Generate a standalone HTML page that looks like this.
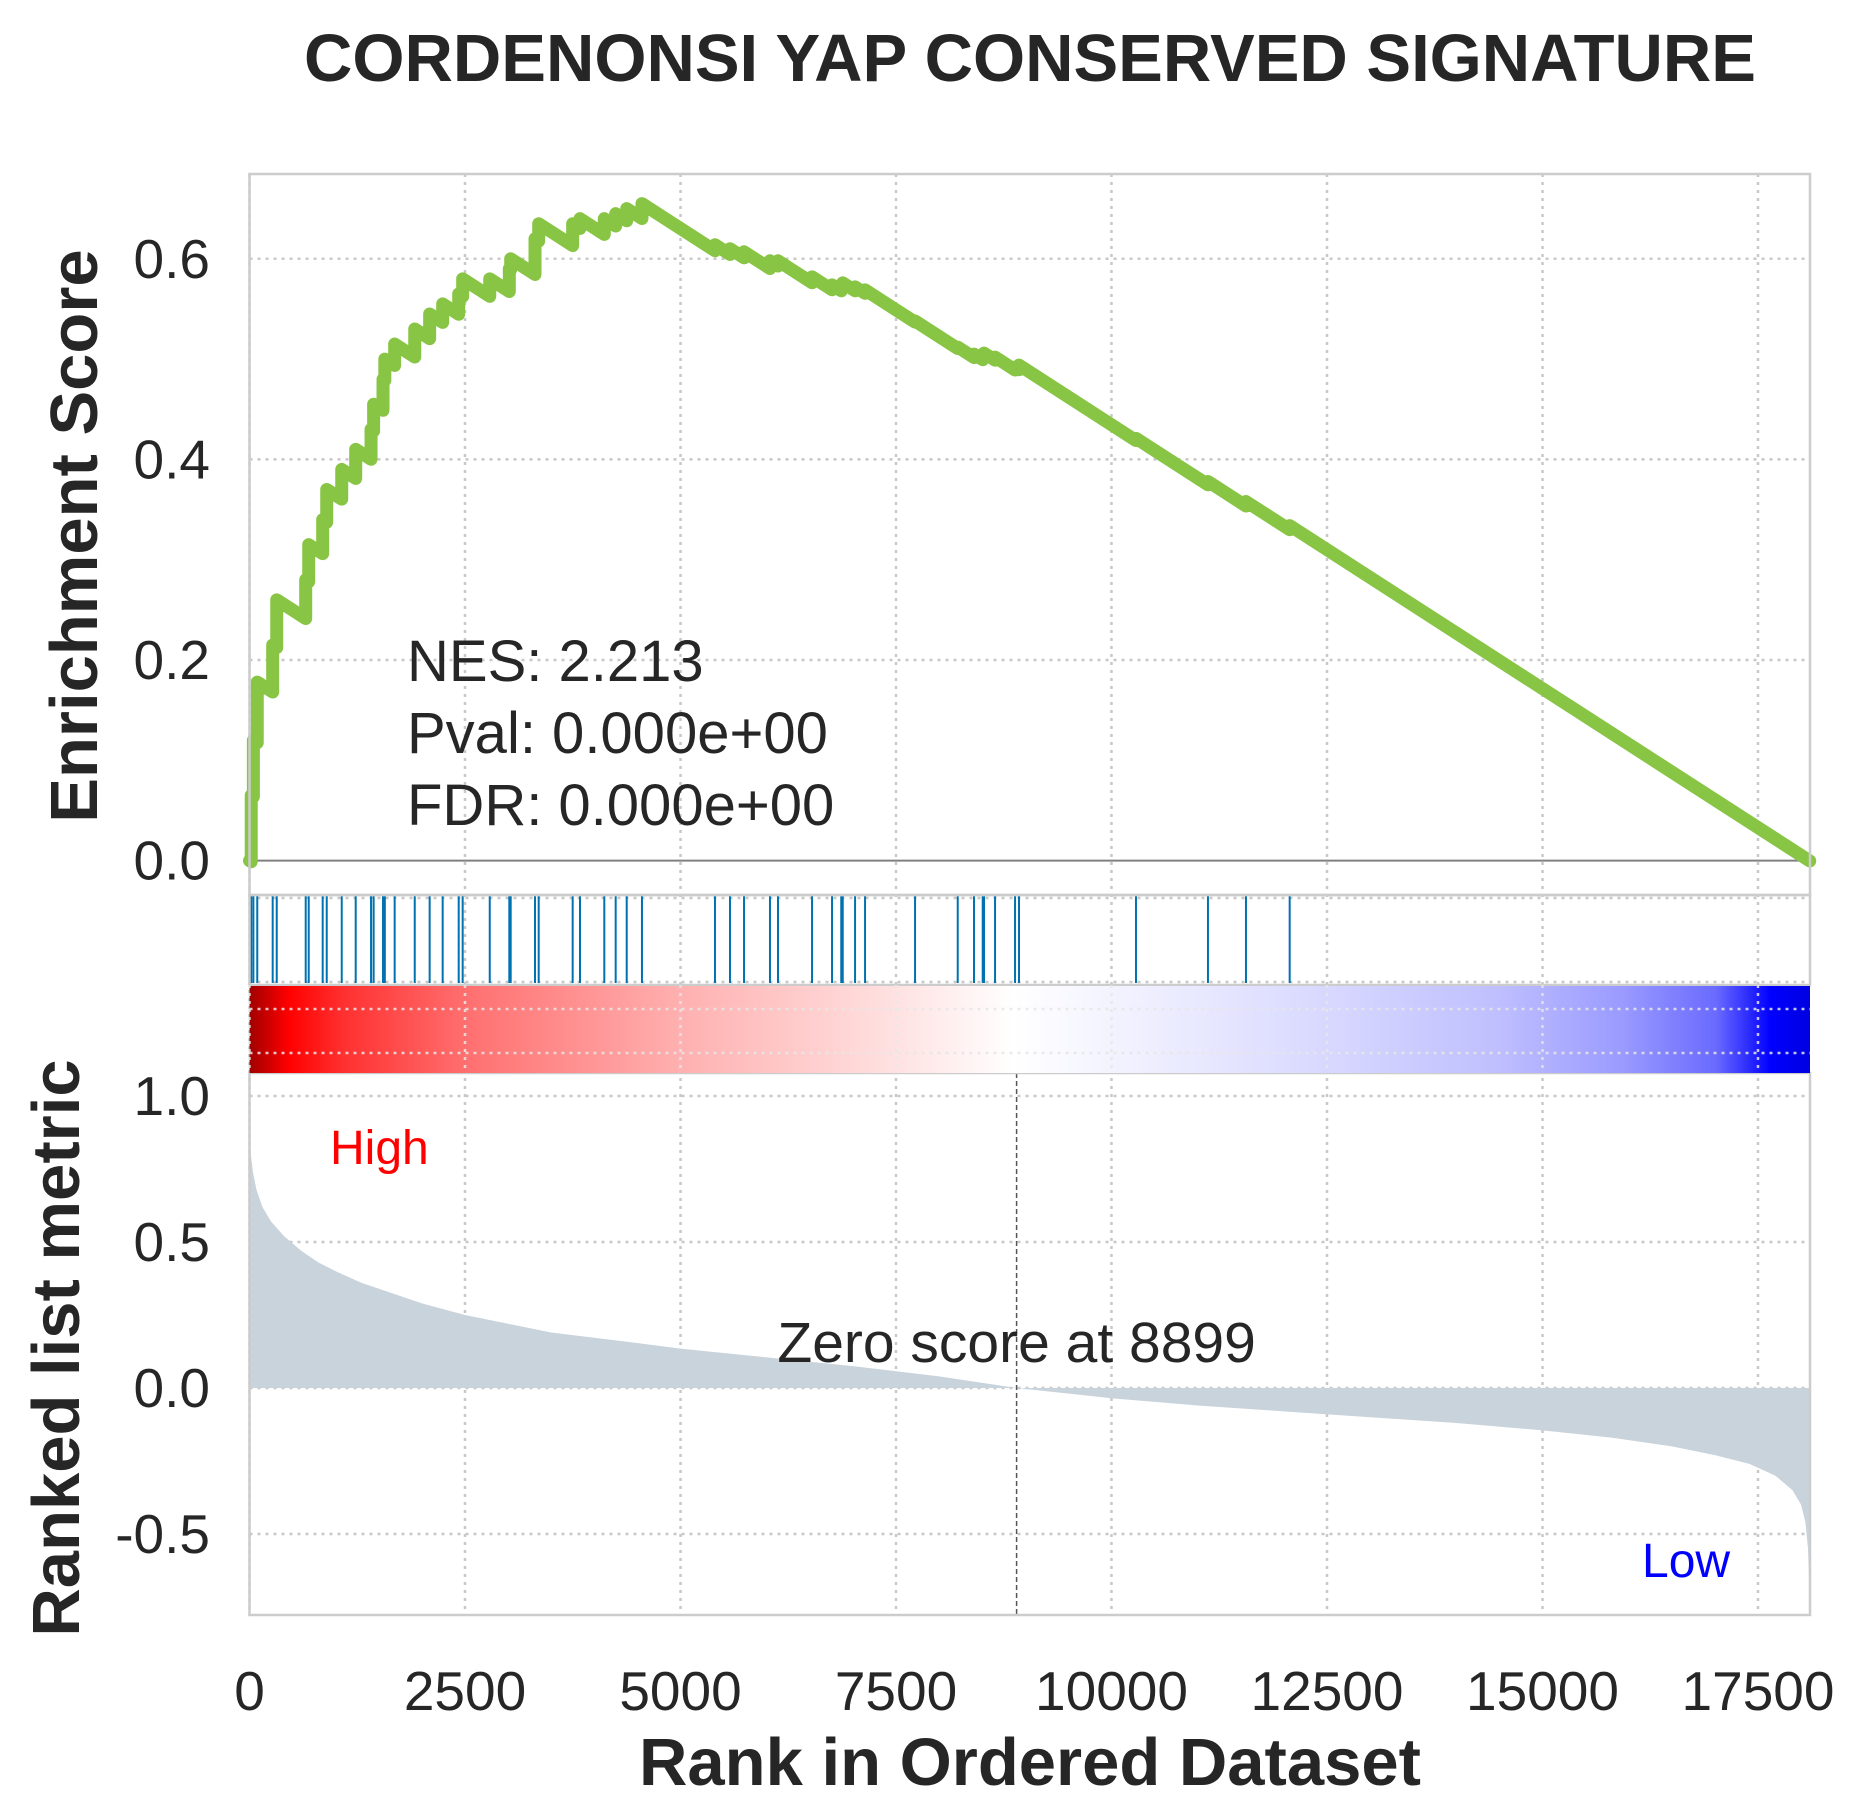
<!DOCTYPE html>
<html><head><meta charset="utf-8">
<style>
html,body{margin:0;padding:0;background:#fff;}
svg{display:block;font-family:"Liberation Sans",Arial,sans-serif;}
</style></head>
<body>
<svg id="chart" width="1869" height="1816" viewBox="0 0 1869 1816" xmlns="http://www.w3.org/2000/svg">
<defs>
<linearGradient id="cbar" x1="0" y1="0" x2="1" y2="0">
<stop offset="0" stop-color="#a00000"/>
<stop offset="0.025" stop-color="#ff0000"/>
<stop offset="0.06" stop-color="#ff3030"/>
<stop offset="0.138" stop-color="#ff6f6f"/>
<stop offset="0.276" stop-color="#ffb0b0"/>
<stop offset="0.4" stop-color="#ffdcdc"/>
<stop offset="0.49" stop-color="#ffffff"/>
<stop offset="0.6" stop-color="#eaeaff"/>
<stop offset="0.7" stop-color="#d6d6ff"/>
<stop offset="0.8" stop-color="#bfbfff"/>
<stop offset="0.88" stop-color="#9a9aff"/>
<stop offset="0.94" stop-color="#6a6aff"/>
<stop offset="0.975" stop-color="#0000ff"/>
<stop offset="1" stop-color="#0000e0"/>
</linearGradient>
</defs>
<text x="1030" y="81" text-anchor="middle" font-size="67" font-weight="bold" fill="#262626">CORDENONSI YAP CONSERVED SIGNATURE</text>
<g id="grid"></g>
<g id="marks"></g>
<g id="frames"></g>
<g id="labels"></g>
</svg>
<script>
// ---- data ----
const xTicks = [0, 2500, 5000, 7500, 10000, 12500, 15000, 17500];
const esTicks = [0.0, 0.2, 0.4, 0.6];
const metricTicks = [1.0, 0.5, 0.0, -0.5];
const totalGenes = 18100;
const zeroScoreRank = 8899;
const hitRanks = [20,45,90,269,316,652,687,849,896,1070,1232,1410,1440,1549,1570,1684,1917,2090,2241,2427,2473,2787,3014,3030,3312,3355,3749,3834,4116,4248,4376,4553,5400,5574,5737,6038,6131,6526,6758,6865,6882,7025,7141,7721,8216,8405,8506,8521,8649,8881,8927,10284,11119,11560,12067];
const esAfterHit = [0.065,0.12,0.178,0.215,0.26,0.28,0.315,0.34,0.37,0.39,0.41,0.43,0.455,0.48,0.50,0.515,0.53,0.545,0.555,0.565,0.58,0.58,0.59,0.60,0.62,0.635,0.635,0.64,0.64,0.645,0.65,0.655,0.614,0.610,0.607,0.598,0.598,0.582,0.574,0.573,0.576,0.572,0.569,0.538,0.512,0.505,0.503,0.506,0.502,0.492,0.494,0.421,0.378,0.358,0.334];
const esStepDown = 1/(18100-55);
const metricRanks = [0,15,40,80,150,250,400,600,800,1000,1300,1600,2000,2500,3000,3500,4200,5000,6000,7000,8000,8899,10000,11000,12000,13000,14000,15000,15800,16500,17000,17400,17700,17900,18000,18050,18080,18100];
const metricValues = [0.85,0.80,0.74,0.68,0.62,0.57,0.52,0.47,0.43,0.40,0.36,0.33,0.29,0.25,0.22,0.19,0.165,0.135,0.105,0.075,0.04,0.0,-0.035,-0.06,-0.08,-0.10,-0.12,-0.145,-0.17,-0.20,-0.23,-0.26,-0.30,-0.35,-0.40,-0.46,-0.55,-0.72];
const stats = ["NES: 2.213", "Pval: 0.000e+00", "FDR: 0.000e+00"];

// ---- scales ----
const X0 = 249.5, X1 = 1810;
const xS = r => X0 + r / 2500 * 215.5;
const ES_TOP = 174, ES_BOT = 895;
const yE = v => 860.6 - v * 1003;
const HIT_TOP = 895, HIT_BOT = 985, CB_BOT = 1073;
const M_TOP = 1073, M_BOT = 1615;
const yM = v => 1388 - v * 292;

const NS = "http://www.w3.org/2000/svg";
function mk(tag, attrs, parent, text) {
  const e = document.createElementNS(NS, tag);
  for (const k in attrs) e.setAttribute(k, attrs[k]);
  if (text !== undefined) e.textContent = text;
  parent.appendChild(e);
  return e;
}
const grid = document.getElementById('grid');
const marks = document.getElementById('marks');
const frames = document.getElementById('frames');
const labels = document.getElementById('labels');
const gridStyle = {stroke:'#c8c8c8','stroke-width':2.5,'stroke-dasharray':'3,5',fill:'none'};

xTicks.forEach(t => {
  const x = xS(t);
  const l = mk('line', Object.assign({x1:x,x2:x,y1:ES_TOP,y2:M_BOT}, gridStyle), grid);
  
  
});
esTicks.forEach(t => {
  if (t === 0) return;
  const l = mk('line', Object.assign({x1:X0,x2:X1,y1:yE(t),y2:yE(t)}, gridStyle), grid);
  
  
});
metricTicks.forEach(t => {
  const l = mk('line', Object.assign({x1:X0,x2:X1,y1:yM(t),y2:yM(t)}, gridStyle), grid);
  
  
});
[HIT_TOP+3, HIT_BOT-3].forEach(y => {
  const l = mk('line', Object.assign({x1:X0,x2:X1,y1:y,y2:y}, gridStyle), grid);
  
  
});

const zl = mk('line', {x1:X0,x2:X1,y1:yE(0),y2:yE(0),stroke:'#808080','stroke-width':2}, marks);



let d = `M${xS(metricRanks[0])},${yM(0)}`;
metricRanks.forEach((r,i) => { d += ` L${xS(r)},${yM(metricValues[i])}`; });
d += ` L${xS(metricRanks[metricRanks.length-1])},${yM(0)} Z`;
const area = mk('path', {d:d, fill:'#c9d3dc', stroke:'none'}, marks);



hitRanks.forEach(r => {
  const l = mk('line', {x1:xS(r),x2:xS(r),y1:HIT_TOP,y2:HIT_BOT-2,stroke:'#0072b2','stroke-width':2}, marks);
  
  
});

let prevR = 0, prevV = 0;
let pts = [[xS(0), yE(0)]];
hitRanks.forEach((r,i) => {
  const before = prevV - (r - prevR) * esStepDown;
  pts.push([xS(r), yE(before)]);
  pts.push([xS(r), yE(esAfterHit[i])]);
  prevR = r; prevV = esAfterHit[i];
});
pts.push([xS(totalGenes), yE(prevV - (totalGenes - prevR) * esStepDown)]);
const es = mk('polyline', {points: pts.map(p => p.join(',')).join(' '), fill:'none', stroke:'#88c544','stroke-width':13,'stroke-linejoin':'round','stroke-linecap':'round'}, marks);



const zs = mk('line', {x1:xS(zeroScoreRank),x2:xS(zeroScoreRank),y1:M_TOP,y2:M_BOT,stroke:'#555','stroke-width':1.5,'stroke-dasharray':'5,3'}, marks);



[[ES_TOP, ES_BOT, 'es-axes-frame'], [HIT_TOP, HIT_BOT, 'hits-axes-frame'], [M_TOP, M_BOT, 'metric-axes-frame']].forEach(f => {
  const r = mk('rect', {x:X0,y:f[0],width:X1-X0,height:f[1]-f[0],fill:'none',stroke:'#cccccc','stroke-width':2.5}, frames);
  
  
});
const cb = mk('rect', {x:X0,y:HIT_BOT+1,width:X1-X0,height:CB_BOT-HIT_BOT-1,fill:'url(#cbar)'}, frames);


const cbGrid = {stroke:'#e6e6e6','stroke-width':2.5,'stroke-dasharray':'3,5',fill:'none',opacity:0.85};
[HIT_BOT + 24, HIT_BOT + 68].forEach(y => {
  const l = mk('line', Object.assign({x1:X0,x2:X1,y1:y,y2:y}, cbGrid), frames);
  
  
});
xTicks.forEach(t => {
  const l = mk('line', Object.assign({x1:xS(t),x2:xS(t),y1:HIT_BOT,y2:CB_BOT}, cbGrid), frames);
  
  
});

const txt = {fill:'#262626','font-size':55};
xTicks.forEach(t => {
  const e = mk('text', Object.assign({x:xS(t),y:1710,'text-anchor':'middle'}, txt), labels, String(t));
  
  
});
esTicks.forEach(t => {
  const e = mk('text', Object.assign({x:210,y:yE(t)+19,'text-anchor':'end'}, txt), labels, t.toFixed(1));
  
  
});
metricTicks.forEach(t => {
  const e = mk('text', Object.assign({x:210,y:yM(t)+19,'text-anchor':'end'}, txt), labels, t.toFixed(1));
  
  
});
stats.forEach((s,i) => {
  const e = mk('text', Object.assign({x:407,y:681+i*72}, txt, {'font-size':58}), labels, s);
  
  
});
const zt = mk('text', Object.assign({x:xS(zeroScoreRank),y:1362,'text-anchor':'middle'}, txt, {'font-size':57}), labels, 'Zero score at ' + zeroScoreRank);


const hi = mk('text', {x:330,y:1164,fill:'#ff0000','font-size':48}, labels, 'High');


const lo = mk('text', {x:1642,y:1577,fill:'#0000ff','font-size':48}, labels, 'Low');


const xt = mk('text', {x:1030,y:1785,'text-anchor':'middle','font-size':67,'font-weight':'bold',fill:'#262626'}, labels, 'Rank in Ordered Dataset');


const yt1 = mk('text', {x:0,y:0,transform:'translate(97,536) rotate(-90)','text-anchor':'middle','font-size':67,'font-weight':'bold',fill:'#262626'}, labels, 'Enrichment Score');


const yt2 = mk('text', {x:0,y:0,transform:'translate(79,1348) rotate(-90)','text-anchor':'middle','font-size':67,'font-weight':'bold',fill:'#262626'}, labels, 'Ranked list metric');


</script>
</body></html>
